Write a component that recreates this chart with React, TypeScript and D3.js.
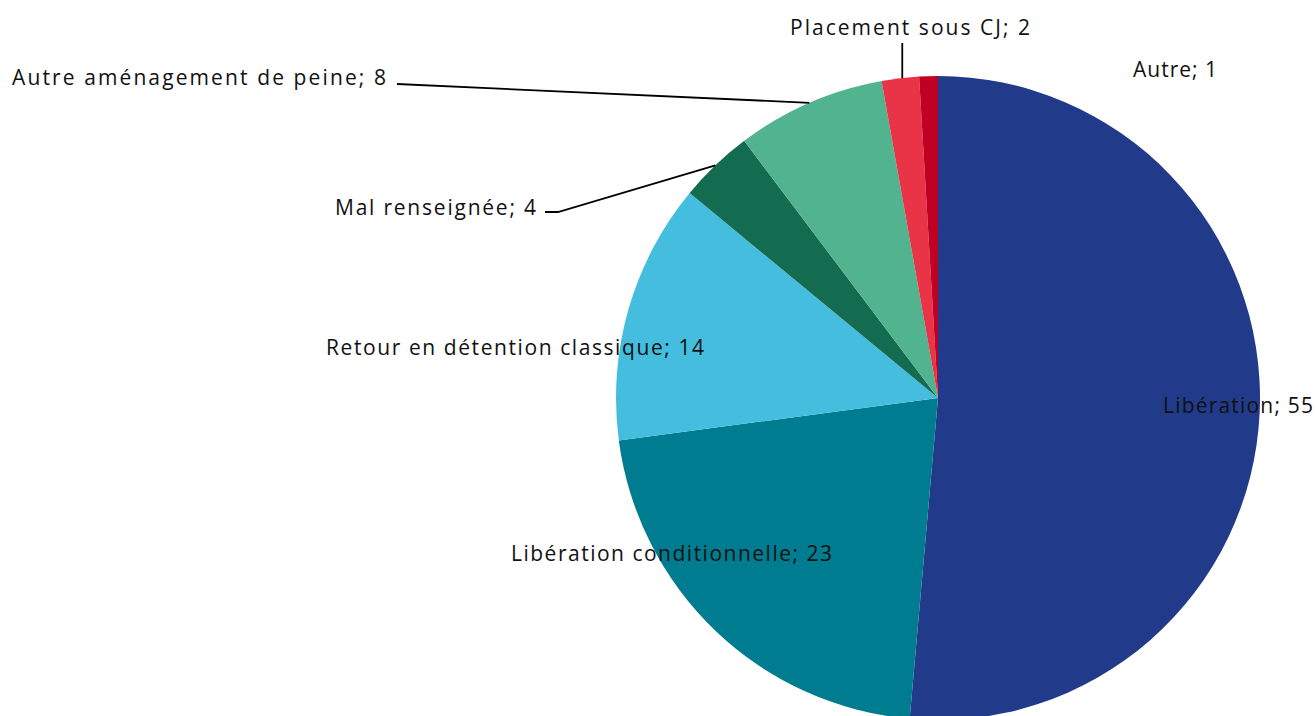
import React from "react";
import * as d3 from "d3";

const categories = [
  "Libération",
  "Libération conditionnelle",
  "Retour en détention classique",
  "Mal renseignée",
  "Autre aménagement de peine",
  "Placement sous CJ",
  "Autre",
];
const values = [55, 23, 14, 4, 8, 2, 1];
const colors = ["#213A8A", "#007C91", "#45BDDE", "#136C50", "#51B48E", "#E83446", "#C00022"];

// label layout: x, baseline y, rendered width, leader type
const labelLayout: { x: number; y: number; w: number; leader: string; elbow?: [number, number] }[] = [
  { x: 1163, y: 413, w: 150, leader: "none" },
  { x: 511, y: 561, w: 321, leader: "none" },
  { x: 326, y: 355, w: 378, leader: "none" },
  { x: 335, y: 215, w: 201, leader: "elbow", elbow: [545, 212] },
  { x: 12, y: 85, w: 374, leader: "straight", elbow: [397, 84] },
  { x: 790, y: 35, w: 240, leader: "vertical" },
  { x: 1133, y: 77, w: 84, leader: "none" },
];

const W = 1316;
const H = 716;
const cx = 938;
const cy = 398;
const R = 322;

export default function App() {
  const data = categories.map((c, i) => ({ c, v: values[i], i }));
  const pie = d3.pie<any>().value((d) => d.v).sort(null);
  const arcs = pie(data);
  const arc = d3.arc<any>().innerRadius(0).outerRadius(R);
  const font = "'Open Sans', 'Noto Sans', sans-serif";

  return (
    <svg width={W} height={H} style={{ position: "absolute", left: 0, top: 0, background: "#fff" }}>
      <g transform={`translate(${cx},${cy})`}>
        {arcs.map((a, i) => (
          <path key={i} d={arc(a) as string} fill={colors[i]} />
        ))}
      </g>
      {arcs.map((a, i) => {
        const L = labelLayout[i];
        const mid = (a.startAngle + a.endAngle) / 2;
        const px = cx + R * Math.sin(mid);
        const py = cy - R * Math.cos(mid);
        let line = null;
        if (L.leader === "elbow" && L.elbow) {
          const [ex, ey] = L.elbow;
          line = <polyline points={`${ex},${ey} ${ex + 13},${ey} ${px},${py}`} fill="none" stroke="#000" strokeWidth={1.8} />;
        } else if (L.leader === "straight" && L.elbow) {
          const [ex, ey] = L.elbow;
          line = <polyline points={`${ex},${ey} ${px},${py}`} fill="none" stroke="#000" strokeWidth={1.8} />;
        } else if (L.leader === "vertical") {
          line = <line x1={px + 2} y1={py} x2={px + 2} y2={43} stroke="#000" strokeWidth={1.8} />;
        }
        return (
          <g key={i}>
            {line}
            <text
              x={L.x}
              y={L.y}
              fontFamily={font}
              fontSize={21}
              fill="#111"
              textLength={L.w}
              lengthAdjust="spacing"
            >
              {`${categories[i]}; ${values[i]}`}
            </text>
          </g>
        );
      })}
    </svg>
  );
}
